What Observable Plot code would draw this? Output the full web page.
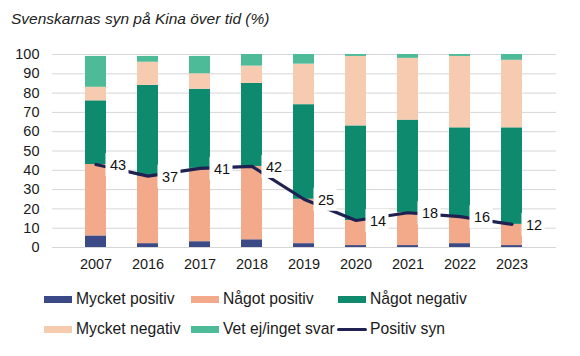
<!DOCTYPE html>
<html>
<head>
<meta charset="utf-8">
<script src="https://cdn.jsdelivr.net/npm/d3@7"></script>
<script src="https://cdn.jsdelivr.net/npm/@observablehq/plot@0.6"></script>
<style>
  html, body { margin: 0; padding: 0; background: #fff; }
  body { width: 580px; height: 356px; position: relative; font-family: "Liberation Sans", Arial, sans-serif; color: #1a1a1a; overflow: hidden; }
  #title { position: absolute; left: 11px; top: 10px; font-size: 15.5px; font-style: italic; color: #222; }
  #chart { position: absolute; left: 0; top: 40px; }
  .leg { position: absolute; font-size: 15.7px; color: #1a1a1a; display: flex; align-items: center; white-space: nowrap; }
  .sw { width: 28px; height: 7px; margin-right: 4px; }
  .ln { width: 30px; height: 3px; border-radius: 2px; margin-right: 3px; }
</style>
</head>
<body>
<div id="title">Svenskarnas syn på Kina över tid (%)</div>
<div id="chart"></div>
<div id="legend"></div>
<script>
const years = ["2007","2016","2017","2018","2019","2020","2021","2022","2023"];
const categories = ["Mycket positiv","Något positiv","Något negativ","Mycket negativ","Vet ej/inget svar"];
const colors = ["#3b4a87","#f2aa8a","#0e8a6f","#f7cbb0","#4dbb98"];
const mycketPositiv  = [6, 2, 3, 4, 2, 1, 1, 2, 1];
const nagotPositiv   = [37,35,38,38,23,13,17,14,11];
const nagotNegativ   = [33,47,41,43,49,49,48,46,50];
const mycketNegativ  = [7, 12, 8, 9, 21,36,32,37,35];
const vetEj          = [16, 3, 9, 6, 5, 1, 2, 1, 3];
const positivSyn     = [43,37,41,42,25,14,18,16,12];
const lineName = "Positiv syn";
const lineColor = "#1f2152";
const yTicks = [0,10,20,30,40,50,60,70,80,90,100];

const series = [mycketPositiv, nagotPositiv, nagotNegativ, mycketNegativ, vetEj];
const bars = [];
categories.forEach((c, ci) => years.forEach((y, i) => bars.push({year: y, cat: c, value: series[ci][i]})));
const line = years.map((y, i) => ({year: y, value: positivSyn[i]}));

const plot = Plot.plot({
  width: 580,
  height: 240,
  marginTop: 14,
  marginBottom: 33,
  marginLeft: 52,
  marginRight: 24,
  style: {fontFamily: "Liberation Sans, Arial, sans-serif", fontSize: "14.5px", color: "#1a1a1a", background: "white"},
  x: {domain: years, padding: 0.59, label: null, tickSize: 0, tickPadding: 11},
  y: {domain: [0, 100], ticks: yTicks, label: null, tickSize: 0, tickPadding: 13},
  color: {domain: categories, range: colors},
  marks: [
    Plot.gridY(yTicks, {stroke: "#d6d6d6", strokeOpacity: 1, strokeWidth: 1}),
    Plot.barY(bars, {x: "year", y: "value", fill: "cat", order: categories}),
    Plot.line(line, {x: "year", y: "value", stroke: lineColor, strokeWidth: 3.2}),
    Plot.dot(line, {x: "year", y: "value", symbol: "square", r: 13, fill: "white", stroke: null, dx: 21}),
    Plot.text(line, {x: "year", y: "value", text: d => String(d.value), dx: 22, dy: 1, fontSize: 14.5, fill: "#111"})
  ]
});
document.getElementById("chart").appendChild(plot);

const legendItems = [
  {name: categories[0], color: colors[0], x: 44, y: 299},
  {name: categories[1], color: colors[1], x: 191, y: 299},
  {name: categories[2], color: colors[2], x: 338, y: 299},
  {name: categories[3], color: colors[3], x: 44, y: 329},
  {name: categories[4], color: colors[4], x: 191, y: 329},
  {name: lineName, color: lineColor, x: 337, y: 329, line: true}
];
const leg = document.getElementById("legend");
legendItems.forEach(it => {
  const d = document.createElement("div");
  d.className = "leg";
  d.style.left = it.x + "px";
  d.style.top = (it.y - 10) + "px";
  d.style.height = "20px";
  const s = document.createElement("span");
  s.className = it.line ? "ln" : "sw";
  s.style.background = it.color;
  d.appendChild(s);
  const t = document.createElement("span");
  t.textContent = it.name;
  d.appendChild(t);
  leg.appendChild(d);
});
</script>
</body>
</html>
